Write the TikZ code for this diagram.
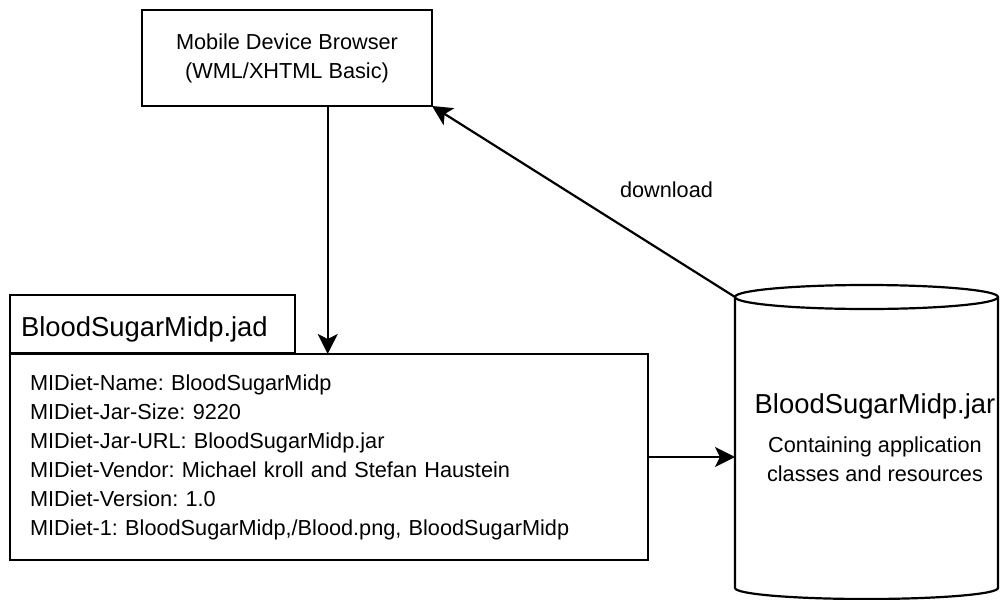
\documentclass[tikz,border=0pt]{standalone}
\usepackage{fontspec}
\setmainfont{Liberation Sans}
\usetikzlibrary{arrows.meta}
\frenchspacing
\newcommand{\bodyfnt}{\fontsize{21.7}{29}\selectfont}
\newcommand{\titlefnt}{\fontsize{27.4}{32}\selectfont}
\begin{document}
\begin{tikzpicture}[x=1pt,y=-1pt,line width=2.2pt,
  box/.style={draw, rectangle, inner sep=0pt, outer sep=0pt, line width=2.2pt},
  conn/.style={line width=2.2pt, -{Stealth[length=20pt,width=20pt,inset=5pt]}},
  bodytext/.style={font=\bodyfnt},
  titletext/.style={font=\titlefnt}]
\useasboundingbox (0,0) rectangle (1000,599);
% browser
\node[box, bodytext, minimum width=290pt, minimum height=96pt, align=center] (browser) at (287,58) {Mobile Device Browser\\(WML/XHTML Basic)};
% jad tab and body
\node[box, titletext, anchor=north west, minimum height=58pt, text width=263pt, inner xsep=11pt, align=left, text height=25.4pt, text depth=0pt] (jadtab) at (10,295) {BloodSugarMidp.jad};
\node[box, bodytext, anchor=north west, minimum height=206pt, text width=598pt, inner xsep=20pt, align=left] (jad) at (10,354) {MIDiet-Name: BloodSugarMidp\\MIDiet-Jar-Size: 9220\\MIDiet-Jar-URL: BloodSugarMidp.jar\\MIDiet-Vendor: Michael kroll and Stefan Haustein\\MIDiet-Version: 1.0\\MIDiet-1: BloodSugarMidp,/Blood.png, BloodSugarMidp};
% cylinder
\node[inner sep=0pt, outer sep=0pt, minimum width=263pt, minimum height=291pt] (jar) at (866.5,442.5) {};
\draw (jar.north west) -- (jar.south west) arc[start angle=180, end angle=0, x radius=131.5, y radius=11] -- (jar.north east);
\draw (jar.north) ellipse [x radius=131.5, y radius=12];
\node[titletext, anchor=base, inner sep=0pt] (jartitle) at (875,413) {BloodSugarMidp.jar};
\node[bodytext, anchor=north, align=center, inner sep=0pt] (jardesc) at (875,435.9) {Containing application\\classes and resources};
% connectors
\coordinate (bdown) at ([xshift=40.7pt]browser.south);
\draw[conn] (bdown) -- (bdown |- jad.north);
\draw[conn] (jad.east) -- (jad.east -| jar.west);
\draw[conn] (jar.north west) -- (browser.south east);
\node[bodytext] (dl) at (666.5,190) {download};
\end{tikzpicture}
\end{document}
